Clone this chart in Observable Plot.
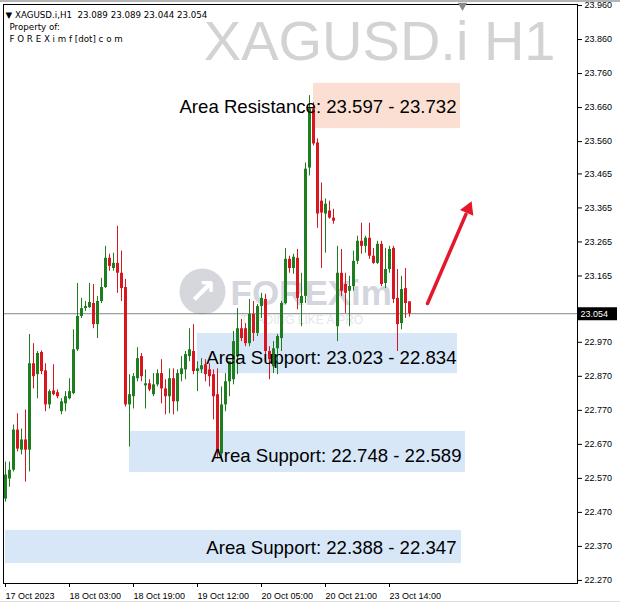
<!DOCTYPE html>
<html><head><meta charset="utf-8">
<script src="https://cdn.jsdelivr.net/npm/d3@7"></script>
<script src="https://cdn.jsdelivr.net/npm/@observablehq/plot@0.6"></script>
<style>
html,body{margin:0;padding:0;background:#fff;}
#chart{position:relative;width:620px;height:606px;overflow:hidden;}
#chart svg{display:block;}
.topline{position:absolute;left:0;top:0;width:620px;height:2px;background:#b4b4b4;}
.botline{position:absolute;left:0;top:601px;width:620px;height:1px;background:#dcdcdc;}
</style></head><body>
<div id="chart"><div class="topline"></div><div class="botline"></div></div>
<script>
// ---------- data ----------
const symbolName = "XAGUSD.i";
const timeframe = "H1";

const open = [22.509,22.568,22.594,22.712,22.653,22.683,22.653,22.907,22.875,22.940,
22.886,22.786,22.827,22.822,22.766,22.789,22.804,22.819,22.948,23.046,
23.069,23.072,23.084,23.022,23.090,23.131,23.217,23.187,23.202,23.173,
23.131,22.786,22.810,22.863,22.928,22.842,22.848,22.816,22.845,22.878,
22.833,22.810,22.863,22.795,22.875,22.889,22.928,22.943,22.884,22.889,
22.904,22.889,22.875,22.816,22.642,22.786,22.854,22.860,22.928,23.010,
23.010,22.966,23.052,22.996,23.075,23.096,22.943,22.898,22.951,22.981,
23.084,23.214,23.187,23.217,23.084,23.105,23.482,23.656,23.556,23.385,
23.347,23.356,23.335,23.016,23.173,23.140,23.120,23.134,23.208,23.267,
23.252,23.276,23.223,23.202,23.258,23.143,23.184,23.246,23.099,23.025,
23.128,23.089];

const high = [22.618,22.618,22.727,22.760,22.715,22.771,22.993,22.966,22.943,22.945,
22.907,22.830,22.904,22.830,22.804,22.825,22.863,23.007,23.143,23.099,
23.090,23.143,23.140,23.105,23.158,23.252,23.229,23.232,23.311,23.238,
23.155,22.875,22.878,22.954,22.937,22.889,22.860,22.878,22.889,22.919,
22.860,22.892,22.892,22.889,22.928,22.943,23.010,23.022,22.913,22.922,
22.919,22.907,22.889,22.892,22.839,22.878,22.898,23.002,23.069,23.037,
23.025,23.096,23.090,23.081,23.114,23.111,22.957,22.972,22.993,23.090,
23.246,23.223,23.229,23.243,23.173,23.497,23.695,23.674,23.568,23.438,
23.391,23.385,23.361,23.252,23.243,23.173,23.164,23.238,23.282,23.320,
23.282,23.320,23.246,23.267,23.267,23.246,23.252,23.252,23.184,23.164,
23.187,23.089];

const low = [22.500,22.544,22.589,22.648,22.639,22.559,22.589,22.833,22.804,22.875,
22.766,22.774,22.813,22.804,22.757,22.766,22.801,22.816,22.943,23.040,
23.061,23.069,23.010,22.981,23.084,23.128,23.179,23.179,23.114,23.090,
22.780,22.662,22.774,22.854,22.854,22.774,22.825,22.810,22.839,22.789,
22.757,22.760,22.757,22.766,22.854,22.860,22.913,22.875,22.825,22.878,
22.854,22.839,22.742,22.627,22.624,22.766,22.810,22.845,22.875,22.972,
22.957,22.957,22.972,22.987,23.040,22.934,22.860,22.878,22.875,22.943,
23.081,23.173,23.170,23.066,23.016,23.084,23.459,23.547,23.305,23.187,
23.232,23.332,23.317,22.972,23.105,23.055,23.016,23.120,23.199,23.229,
23.232,23.214,23.199,23.199,23.134,23.128,23.173,23.084,22.943,23.007,
23.040,23.044];

const close = [22.580,22.594,22.712,22.656,22.683,22.653,22.907,22.869,22.937,22.884,
22.786,22.825,22.816,22.810,22.795,22.810,22.825,22.948,23.046,23.069,
23.075,23.087,23.022,23.090,23.131,23.217,23.193,23.202,23.173,23.128,
22.786,22.816,22.869,22.922,22.869,22.848,22.830,22.845,22.878,22.833,
22.810,22.863,22.795,22.878,22.892,22.934,22.948,22.884,22.892,22.901,
22.875,22.869,22.810,22.648,22.786,22.854,22.913,22.972,23.010,22.981,
22.966,23.052,22.996,23.075,23.099,22.943,22.919,22.951,22.987,23.084,
23.214,23.187,23.220,23.099,23.105,23.479,23.656,23.553,23.347,23.350,
23.376,23.335,23.326,23.173,23.120,23.114,23.134,23.208,23.267,23.252,
23.276,23.223,23.202,23.258,23.140,23.184,23.243,23.096,23.022,23.125,
23.084,23.054];

// time axis (bar index -> label)
const timeTickIndex = [0, 16, 32, 48, 64, 80, 96];
const timeTickLabels = ["17 Oct 2023","18 Oct 03:00","18 Oct 19:00","19 Oct 12:00","20 Oct 05:00","20 Oct 21:00","23 Oct 14:00"];

// price axis ticks (23.065 sits under the current-price tag and is hidden)
const priceTicks = [23.960,23.860,23.760,23.660,23.560,23.465,23.365,23.265,23.165,22.970,22.870,22.770,22.670,22.570,22.470,22.370,22.270];

// zones (drawn boxes)
const zoneKind   = ["resistance","support","support","support"];
const zoneText   = ["Area Resistance: 23.597 - 23.732","Area Support: 23.023 - 22.834","Area Support: 22.748 - 22.589","Area Support: 22.388 - 22.347"];
const zoneStart  = [77, 48, 31, 0];
const zoneEnd    = [113.75, 113, 115, 114];
const zoneTop    = [23.731, 22.996, 22.708, 22.417];
const zoneBottom = [23.598, 22.878, 22.587, 22.320];
const zoneTextX  = [112.75, 112.75, 114, 112.75];
const zoneTextY  = [23.643, 22.905, 22.617, 22.349];

// arrow (bar index, price)
const arrowFrom = [105.5, 23.084];
const arrowTo   = [115.1, 23.346];
const arrowHead = [115.7, 23.362];

// watermark logo
const logoText = "FOREXim";
const logoSub = "TRADING LIKE A PRO";
const logoAt = [49.25, 23.119];
const logoTextAt = [56.25, 23.112];
const logoSubAt = [58.75, 23.034];

// ---------- build ----------
const candles = open.map((o, i) => ({i, open: o, high: high[i], low: low[i], close: close[i], up: close[i] >= o}));
const GREEN = "#1e7d1e", RED = "#d9161f";
const last = candles[candles.length - 1];
const f3 = d3.format(".3f");
const zones = zoneText.map((t, k) => ({
  text: t, x1: zoneStart[k], x2: zoneEnd[k], top: zoneTop[k], bottom: zoneBottom[k],
  fill: zoneKind[k] === "resistance" ? "#fbdfd3" : "#d7e7f8", tx: zoneTextX[k], ty: zoneTextY[k]
}));
const xMax = 143;
const header1 = "\u25BC " + symbolName + "," + timeframe + "\u00a0\u00a0" + [last.open, last.high, last.low, last.close].map(f3).join(" ");

const chart = Plot.plot({
  width: 620, height: 606,
  marginTop: 4, marginBottom: 23, marginLeft: 3, marginRight: 43,
  x: {domain: [-0.5, xMax], axis: null},
  y: {domain: [22.261, 23.963], axis: null},
  color: {type: "identity"},
  style: {fontFamily: "'Liberation Sans', Arial, sans-serif", fontSize: "9px", color: "black", background: "white", overflow: "visible"},
  marks: [
    // watermarks
    Plot.text([symbolName + " " + timeframe], {frameAnchor: "top-right", dx: -22, dy: 16, lineAnchor: "top", textAnchor: "end", fontSize: 56, fill: "#d3d3d3"}),
    Plot.dot([logoAt], {x: d => d[0], y: d => d[1], r: 23, fill: "#d5d7dd"}),
    Plot.text([logoAt], {x: d => d[0], y: d => d[1], text: () => "\u2197", fontSize: 34, fontWeight: "bold", fill: "white", fontFamily: "DejaVu Sans"}),
    Plot.text([logoTextAt], {x: d => d[0], y: d => d[1], text: () => logoText, textAnchor: "start", fontSize: 35, fontWeight: "bold", fill: "#d3d6dd"}),
    Plot.text([logoSubAt], {x: d => d[0], y: d => d[1], text: () => logoSub, textAnchor: "start", fontSize: 12, fill: "#e4e6eb", letterSpacing: "1px"}),
    // zones
    Plot.rect(zones, {x1: "x1", x2: "x2", y1: "bottom", y2: "top", fill: "fill"}),
    // current price line
    Plot.ruleY([last.close], {stroke: "#7f8a85", strokeWidth: 1}),
    // candles
    Plot.ruleX(candles, {x: "i", y1: "low", y2: "high", stroke: d => d.up ? GREEN : RED, strokeWidth: 1}),
    Plot.ruleX(candles, {x: "i", y1: "open", y2: "close", stroke: d => d.up ? GREEN : RED, strokeWidth: 3}),
    // zone labels
    Plot.text(zones, {x: "tx", y: "ty", text: "text", textAnchor: "end", lineAnchor: "bottom", fontSize: 18.6, fill: "black"}),
    // arrow
    Plot.link([0], {x1: () => arrowFrom[0], y1: () => arrowFrom[1], x2: () => arrowTo[0], y2: () => arrowTo[1], stroke: "#e3192b", strokeWidth: 3.5, strokeLinecap: "round"}),
    Plot.dot([arrowHead], {x: d => d[0], y: d => d[1], symbol: "triangle", r: 5.4, fill: "#e3192b", rotate: 23}),
    // frame and axes
    Plot.frame({stroke: "black"}),
    Plot.axisX({ticks: timeTickIndex, tickFormat: d => timeTickLabels[timeTickIndex.indexOf(d)], anchor: "bottom", tickSize: 4, tickPadding: 5, textAnchor: "start", fontSize: 9, label: null}),
    Plot.axisY({ticks: priceTicks, tickFormat: f3, anchor: "right", tickSize: 4, tickPadding: 3, fontSize: 9, label: null}),
    // price tag
    Plot.ruleY([last.close], {x1: xMax, x2: xMax + 10, stroke: "black", strokeWidth: 13}),
    Plot.text([last.close], {x: xMax, y: d => d, text: f3, dx: 3, textAnchor: "start", fill: "white", fontSize: 9}),
    // chart shift marker
    Plot.dot([0], {x: () => 114.25, y: () => 23.960, symbol: "triangle", rotate: 180, r: 3.5, fill: "#8a8a8a"}),
    // header
    Plot.text([header1], {frameAnchor: "top-left", dx: 2, dy: 13, lineAnchor: "bottom", textAnchor: "start", fontSize: 8.7, fill: "black", fontFamily: "DejaVu Sans"}),
    Plot.text(["Property of:"], {frameAnchor: "top-left", dx: 6, dy: 25, lineAnchor: "bottom", textAnchor: "start", fontSize: 8.7, fill: "black", fontFamily: "DejaVu Sans"}),
    Plot.text(["F O R E X i m f [dot] c o m"], {frameAnchor: "top-left", dx: 6, dy: 37, lineAnchor: "bottom", textAnchor: "start", fontSize: 8.7, fill: "black", fontFamily: "DejaVu Sans"})
  ]
});
document.getElementById("chart").prepend(chart);
</script>
</body></html>
